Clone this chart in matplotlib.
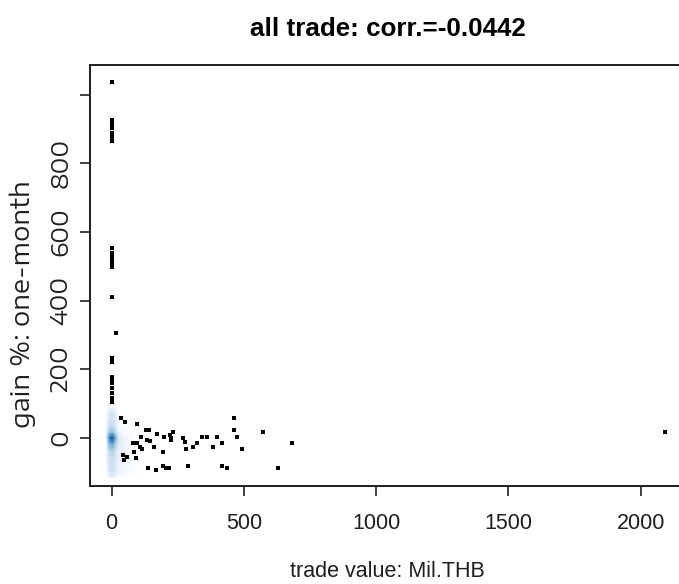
import matplotlib
matplotlib.use("Agg")
import matplotlib.pyplot as plt
from matplotlib.colors import LinearSegmentedColormap
import numpy as np

# points drawn on top of the density (outermost trades)
trade_x = [0, 0, 0, 0, 0, 0, 0, 0, 0, 0, 0, 0, 0, 0, 0, 0, 0, 0, 0, 0, 0, 0, 0, 0,
           15,
           36, 50, 97, 111, 130, 142, 135, 145, 172, 198, 220, 233, 223, 226,
           82, 94, 107, 113, 84, 160, 193, 41, 57, 48, 92,
           268, 277, 281, 309, 321, 342, 361, 384, 397, 418,
           463, 463, 472, 491, 573, 683,
           138, 166, 193, 205, 218, 287, 418, 437, 627,
           2091]
gain_y = [1038, 927, 921, 913, 903, 889, 877, 864, 553, 538, 528, 519, 509, 499,
          410, 232, 222, 178, 168, 159, 144, 130, 115, 105,
          305,
          58, 47, 40, 3, 22, 22, -7, -10, 10, 3, 8, 16, -7, 0,
          -16, -16, -26, -33, -41, -28, -41, -50, -55, -65, -58,
          -2, -12, -34, -28, -16, 3, 3, -28, 3, -16,
          58, 22, 3, -34, 16, -16,
          -88, -94, -83, -88, -88, -83, -83, -88, -88,
          16]

# smoothed density near the origin (0..1 on the colour ramp)
dens_x = [-18, -7, 4, 15, 26, 45, 65, 85, 105]
dens_y = [-115, -95, -75, -55, -35, -15, 0, 15, 35, 55, 75, 95]
dens = [
    [0.08, 0.18, 0.20, 0.14, 0.08, 0.05, 0.03, 0.01, 0.00],
    [0.16, 0.28, 0.30, 0.24, 0.17, 0.15, 0.11, 0.06, 0.02],
    [0.16, 0.28, 0.30, 0.24, 0.16, 0.13, 0.09, 0.05, 0.02],
    [0.17, 0.30, 0.32, 0.26, 0.17, 0.13, 0.09, 0.04, 0.01],
    [0.20, 0.38, 0.42, 0.30, 0.19, 0.15, 0.11, 0.05, 0.02],
    [0.26, 0.56, 0.62, 0.42, 0.23, 0.17, 0.12, 0.06, 0.02],
    [0.32, 0.78, 0.88, 0.54, 0.26, 0.16, 0.10, 0.05, 0.02],
    [0.24, 0.46, 0.50, 0.34, 0.17, 0.10, 0.06, 0.03, 0.01],
    [0.18, 0.30, 0.32, 0.24, 0.09, 0.04, 0.02, 0.00, 0.00],
    [0.16, 0.27, 0.28, 0.20, 0.06, 0.02, 0.00, 0.00, 0.00],
    [0.13, 0.24, 0.26, 0.18, 0.03, 0.00, 0.00, 0.00, 0.00],
    [0.03, 0.07, 0.09, 0.05, 0.00, 0.00, 0.00, 0.00, 0.00],
]

x_ticks = [0, 500, 1000, 1500, 2000]
y_ticks = [0, 200, 400, 600, 800, 1000]
y_ticklabels = ["0", "200", "400", "600", "800", ""]

blues9 = ["#F7FBFF", "#DEEBF7", "#C6DBEF", "#9ECAE1", "#6BAED6",
          "#4292C6", "#2171B5", "#08519C", "#08306B"]
ramp = LinearSegmentedColormap.from_list("ss", ["white"] + blues9)

flat = ["Liberation Sans", "DejaVu Sans"]
# the original's vertical text is drawn stretched, an expanded face comes closest
tall = ["Encode Sans Expanded", "DejaVu Sans"]
ink = "#1e1e1e"

W, H = 679, 584
fig = plt.figure(figsize=(W / 100, H / 100), dpi=100)
# plot box runs past the right edge of the picture, as in the original
ax = fig.add_axes([89.6 / W, 98 / H, (687 - 89.6) / W, (486 - 65) / H])

ax.pcolormesh(dens_x, dens_y, np.array(dens), shading="gouraud",
              cmap=ramp, vmin=0, vmax=1, zorder=1)
ax.scatter(trade_x, gain_y, marker="s", s=6, c="black", linewidths=0, zorder=3)

ax.set_xlim(-83.5, 2175)
ax.set_ylim(-141, 1087)

for sp in ax.spines.values():
    sp.set_linewidth(1.4)
    sp.set_color(ink)

ax.set_xticks(x_ticks)
ax.set_xticklabels([str(v) for v in x_ticks], family=flat, fontsize=15.5, color=ink)
ax.set_yticks(y_ticks)
ax.set_yticklabels(y_ticklabels, family=tall, fontsize=17, color=ink,
                   rotation=90, va="center")
ax.tick_params(axis="both", direction="out", length=7.2, width=1.2, color=ink)
ax.tick_params(axis="x", pad=12.5)
ax.tick_params(axis="y", pad=5)

ax.set_xlabel("trade value: Mil.THB", family=flat, fontsize=15.5, color=ink)
ax.xaxis.set_label_coords(387 / W, 1 - 577 / H, transform=fig.transFigure)
ax.xaxis.label.set_va("baseline")

ax.set_ylabel("gain %: one-month", family=tall, fontsize=18.5, color=ink)
ax.yaxis.set_label_coords(23 / W, 1 - 304 / H, transform=fig.transFigure)
ax.yaxis.label.set_va("center")
ax.yaxis.label.set_ha("center")

ax.set_title("all trade: corr.=-0.0442", family=flat, fontweight="bold",
             fontsize=18.7, x=0.5, y=1 + 29.3 / 421, pad=0, va="baseline")

fig.savefig("out.png", dpi=100)
